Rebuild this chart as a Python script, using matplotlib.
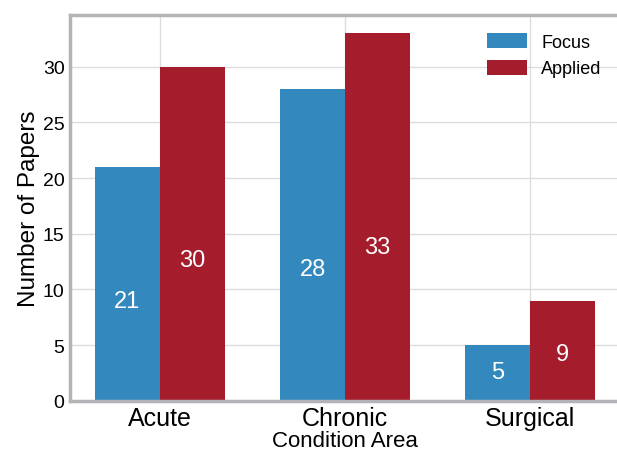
import matplotlib
matplotlib.use('Agg')
import matplotlib.pyplot as plt
import numpy as np

categories = ['Acute', 'Chronic', 'Surgical']
focus = [21, 28, 5]
applied = [30, 33, 9]

plt.rcParams['font.family'] = ['Liberation Sans', 'DejaVu Sans']

fig = plt.figure(figsize=(6.17, 4.52), dpi=100)
ax = fig.add_axes([0.1135, 0.111, 0.891, 0.854])

x = np.arange(len(categories))
w = 0.35
blue = '#3389BD'
red = '#A51C2D'

b1 = ax.bar(x - w / 2, focus, w, color=blue, label='Focus', zorder=2)
b2 = ax.bar(x + w / 2, applied, w, color=red, label='Applied', zorder=2)

# numbers inside the bars
for bars in (b1, b2):
    for r in bars:
        h = r.get_height()
        ax.text(r.get_x() + r.get_width() / 2, 0.4 * h + 0.6, str(int(h)),
                ha='center', va='center', color='white', fontsize=17, zorder=3)

ax.set_xticks(x)
ax.set_xticklabels(categories, fontsize=18)
ax.tick_params(axis='y', labelsize=14)
ax.tick_params(length=0, pad=4)
ax.set_ylabel('Number of Papers', fontsize=17.5, labelpad=2)
ax.set_xlabel('Condition Area', fontsize=16, labelpad=0)

ax.grid(True, color='#dddddd', linewidth=1, zorder=0)
ax.set_axisbelow(True)
for side in ['left', 'top', 'bottom']:
    ax.spines[side].set_color('#b4b4b8')
    ax.spines[side].set_linewidth(2.5)
ax.spines['right'].set_visible(False)

ax.legend(loc='upper right', frameon=False, fontsize=13,
          handlelength=2.2, handleheight=0.9, borderaxespad=0.6)

plt.savefig('out.png', dpi=100)
plt.close()
